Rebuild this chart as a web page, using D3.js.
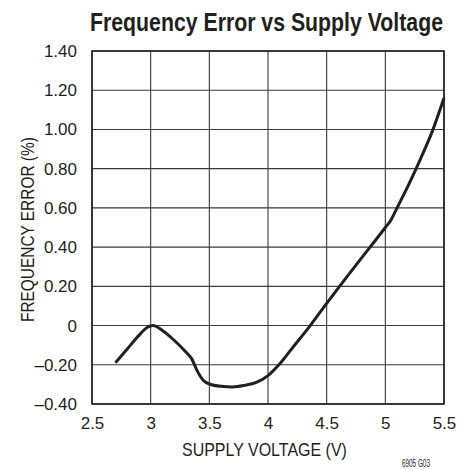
<!DOCTYPE html>
<html>
<head>
<meta charset="utf-8">
<script src="https://cdn.jsdelivr.net/npm/d3@7"></script>
<style>
  body { margin: 0; background: #fff; }
  text { font-family: "Liberation Sans", Arial, sans-serif; fill: #231f20; }
</style>
</head>
<body>
<div id="chart"></div>
<script>
// data
var voltage = [2.7, 2.8, 2.9, 2.97, 3.02, 3.1, 3.2, 3.3, 3.35, 3.4, 3.45, 3.5, 3.6, 3.7, 3.8, 3.9, 4.0, 4.1, 4.2, 4.36, 4.5, 4.7, 4.87, 5.0, 5.05, 5.1, 5.2, 5.3, 5.4, 5.5];
var freqError = [-0.19, -0.12, -0.05, -0.01, 0.0, -0.025, -0.075, -0.135, -0.17, -0.235, -0.28, -0.298, -0.31, -0.313, -0.305, -0.29, -0.255, -0.195, -0.12, 0.0, 0.113, 0.27, 0.4, 0.5, 0.54, 0.6, 0.72, 0.85, 0.99, 1.16];

var xTicks = [2.5, 3, 3.5, 4, 4.5, 5, 5.5];
var xTickLabels = ["2.5", "3", "3.5", "4", "4.5", "5", "5.5"];
var yTicks = [-0.4, -0.2, 0, 0.2, 0.4, 0.6, 0.8, 1.0, 1.2, 1.4];
var yTickLabels = ["\u20130.40", "\u20130.20", "0", "0.20", "0.40", "0.60", "0.80", "1.00", "1.20", "1.40"];

var width = 471, height = 470;
var plotLeft = 92, plotRight = 444, plotTop = 51, plotBottom = 404;

var svg = d3.select("#chart").append("svg")
    .attr("width", width)
    .attr("height", height);

var xScale = d3.scaleLinear().domain([2.5, 5.5]).range([plotLeft, plotRight]);
var yScale = d3.scaleLinear().domain([-0.4, 1.4]).range([plotBottom, plotTop]);

// grid
svg.append("g").selectAll("line").data(xTicks).enter().append("line")
    .attr("x1", function (d) { return xScale(d); })
    .attr("x2", function (d) { return xScale(d); })
    .attr("y1", plotTop).attr("y2", plotBottom)
    .attr("stroke", "#3a3a3a").attr("stroke-width", 1.1);

svg.append("g").selectAll("line").data(yTicks).enter().append("line")
    .attr("x1", plotLeft).attr("x2", plotRight)
    .attr("y1", function (d) { return yScale(d); })
    .attr("y2", function (d) { return yScale(d); })
    .attr("stroke", "#3a3a3a").attr("stroke-width", 1.1);

// frame
svg.append("rect")
    .attr("x", plotLeft).attr("y", plotTop)
    .attr("width", plotRight - plotLeft).attr("height", plotBottom - plotTop)
    .attr("fill", "none").attr("stroke", "#231f20").attr("stroke-width", 1.6);

// tick labels via d3 axes, lines removed
var xAxis = d3.axisBottom(xScale).tickValues(xTicks)
    .tickFormat(function (d, i) { return xTickLabels[i]; }).tickSize(0).tickPadding(13);
var gx = svg.append("g").attr("transform", "translate(0," + plotBottom + ")").call(xAxis);
gx.select(".domain").remove();
gx.selectAll("text").attr("font-size", 17).attr("font-family", null).attr("fill", null);

var yAxis = d3.axisLeft(yScale).tickValues(yTicks)
    .tickFormat(function (d, i) { return yTickLabels[i]; }).tickSize(0).tickPadding(15);
var gy = svg.append("g").attr("transform", "translate(" + plotLeft + ",0)").call(yAxis);
gy.select(".domain").remove();
gy.selectAll("text").attr("font-size", 17).attr("font-family", null).attr("fill", null);

// curve
var line = d3.line()
    .x(function (d, i) { return xScale(voltage[i]); })
    .y(function (d) { return yScale(d); })
    .curve(d3.curveMonotoneX);

svg.append("path")
    .datum(freqError)
    .attr("d", line)
    .attr("fill", "none")
    .attr("stroke", "#231f20")
    .attr("stroke-width", 3)
    .attr("stroke-linejoin", "round");

// condensed text: squeeze horizontally to a target width
function narrowText(x, y, size, weight, target, rotate, str) {
    var t = svg.append("text")
        .attr("font-size", size)
        .attr("font-weight", weight)
        .text(str);
    var k = target / t.node().getComputedTextLength();
    t.attr("transform", "translate(" + x + "," + y + ")" + (rotate ? "rotate(-90)" : "") + "scale(" + k + ",1)");
    return t;
}

narrowText(90, 31, 26, "bold", 353, false, "Frequency Error vs Supply Voltage");
narrowText(182, 456, 18, "normal", 165, false, "SUPPLY VOLTAGE (V)");
narrowText(34, 322, 18, "normal", 185, true, "FREQUENCY ERROR (%)");
narrowText(402, 467, 11, "normal", 28, false, "6905 G03");
</script>
</body>
</html>
